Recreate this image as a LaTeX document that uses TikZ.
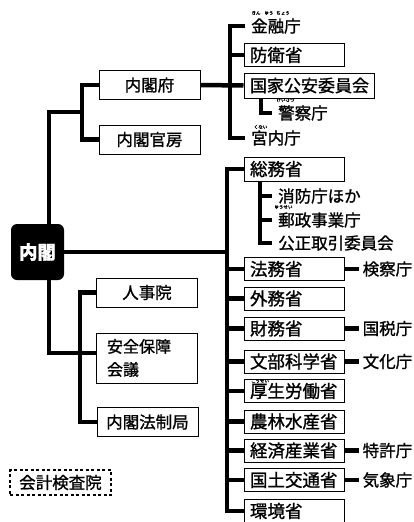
\documentclass[tikz,border=0pt]{standalone}
\usepackage{fontspec}
\setmainfont{Noto Sans CJK JP}[RawFeature={embolden=1.2}]
\begin{document}
\begin{tikzpicture}[x=1pt,y=-1pt,
  bus/.style={line width=4.5pt},
  lbox/.style={draw, line width=1pt, minimum width=101pt, minimum height=29pt, inner sep=0pt, font=\fontsize{16.5}{18}\selectfont},
  rbox/.style={draw, line width=1pt, anchor=west, minimum height=23pt, inner xsep=6pt, inner ysep=0pt, text width=88pt, align=left, font=\fontsize{17.5}{19}\selectfont},
  lbl/.style={anchor=west, inner xsep=6pt, inner ysep=0pt, font=\fontsize{16.5}{18}\selectfont},
  rlbl/.style={anchor=west, inner xsep=3.5pt, inner ysep=0pt, font=\fontsize{16.5}{18}\selectfont},
  ruby/.style={inner sep=0pt, font=\fontsize{4.5}{5}\selectfont}]
\path[use as bounding box, fill=white] (0,0) rectangle (413,522);

% Cabinet
\node[fill=black, rounded corners=6pt, minimum width=53pt, minimum height=56pt, inner sep=0pt, text=white, font=\fontsize{18.5}{20}\selectfont\bfseries] (naikaku) at (37.5,252) {内閣};

% left column
\node[lbox] (fu) at (149.5,85) {内閣府};
\node[lbox] (kanbo) at (149.5,139.5) {内閣官房};
\node[lbox] (jinji) at (147,292.5) {人事院};
\node[lbox, minimum height=50pt, text width=80pt, inner xsep=10pt, align=left, font=\fontsize{16}{23}\selectfont] (anpo) at (147,358) {安全保障\\会議};
\node[lbox] (hosei) at (147.5,422) {内閣法制局};
\node[draw, dash pattern=on 3pt off 2.5pt, line width=1.5pt, minimum width=101pt, minimum height=25pt, inner sep=0pt, font=\fontsize{16.5}{18}\selectfont] (kaikei) at (60.5,482.5) {会計検査院};

\coordinate (ulj) at (82,112);
\coordinate (llj) at (80,353);
\draw[bus] ([xshift=11.5pt]naikaku.north) |- (ulj);
\draw[bus] (fu.west) -| (ulj) |- (kanbo.west);
\draw[bus] ([xshift=11.5pt]naikaku.south) |- ([yshift=5pt]anpo.west);
\draw[bus] (jinji.west) -| (llj) |- (hosei.west);

% upper right group (Cabinet Office)
\node[lbl] (kinyu) at (245,26) {金融庁};
\node[ruby] (r1) at (256,13) {きん};
\node[ruby] (r2) at (269,13) {ゆう};
\node[ruby] (r3) at (283,13) {ちょう};
\node[rbox] (boei) at (243.5,55) {防衛省};
\node[rbox, text width=118pt, minimum height=25pt, font=\fontsize{17}{19}\selectfont] (kokka) at (243.5,85.5) {国家公安委員会};
\node[lbl] (keisatsu) at (272,113) {警察庁};
\node[ruby] (r4) at (285.5,100) {けいさつ};
\node[lbl] (kunai) at (245,138) {宮内庁};
\node[ruby] (r5) at (260.5,127) {くない};

\coordinate (ubx) at (230,0);
\draw[bus] (kinyu.west) -- (kinyu.west -| ubx) -- (kunai.west -| ubx) -- (kunai.west);
\draw[bus] (boei.west -| ubx) -- (boei.west);
\draw[bus] (fu.east) -- (kokka.west);
\coordinate (kx) at (261,0);
\draw[bus] (kokka.south -| kx) |- (keisatsu.west);

% ministries
\node[rbox, minimum height=24pt] (somu) at (243.5,169) {総務省};
\node[lbl] (shobo) at (272,196) {消防庁ほか};
\node[lbl] (yusei) at (272,220) {郵政事業庁};
\node[ruby] (r6) at (283.5,207) {ゆうせい};
\node[lbl] (kotori) at (272,243) {公正取引委員会};
\node[rbox] (homu) at (243.5,269) {法務省};
\node[rbox] (gaimu) at (243.5,298.5) {外務省};
\node[rbox] (zaimu) at (243.5,328.5) {財務省};
\node[rbox] (monbu) at (243.5,361.5) {文部科学省};
\node[rbox] (kosei) at (243.5,391) {厚生労働省};
\node[ruby] (r7) at (260,381) {こうせい};
\node[rbox] (norin) at (243.5,421.5) {農林水産省};
\node[rbox] (keizai) at (243.5,450.5) {経済産業省};
\node[rbox] (kokudo) at (243.5,480) {国土交通省};
\node[rbox] (kankyo) at (243.5,511) {環境省};

\node[rlbl] (kensatsu) at (359,269) {検察庁};
\node[rlbl] (kokuzei) at (359,328.5) {国税庁};
\node[rlbl] (bunka) at (359,361.5) {文化庁};
\node[rlbl] (tokkyo) at (359,450.5) {特許庁};
\node[rlbl] (kisho) at (359,480) {気象庁};

\coordinate (mbx) at (227,0);
\draw[bus] (somu.west) -- (somu.west -| mbx) -- (kankyo.west -| mbx) -- (kankyo.west);
\draw[bus] (naikaku.east) -- (naikaku.east -| mbx);
\foreach \n in {homu,gaimu,zaimu,monbu,kosei,norin,keizai,kokudo}
  \draw[bus] (\n.west -| mbx) -- (\n.west);
\coordinate (sx) at (260,0);
\draw[bus] (somu.south -| sx) |- (kotori.west);
\draw[bus] (shobo.west -| sx) -- (shobo.west);
\draw[bus] (yusei.west -| sx) -- (yusei.west);

\draw[bus] (homu.east) -- (kensatsu.west);
\draw[bus] (zaimu.east) -- (kokuzei.west);
\draw[bus] (monbu.east) -- (bunka.west);
\draw[bus] (keizai.east) -- (tokkyo.west);
\draw[bus] (kokudo.east) -- (kisho.west);
\end{tikzpicture}
\end{document}
